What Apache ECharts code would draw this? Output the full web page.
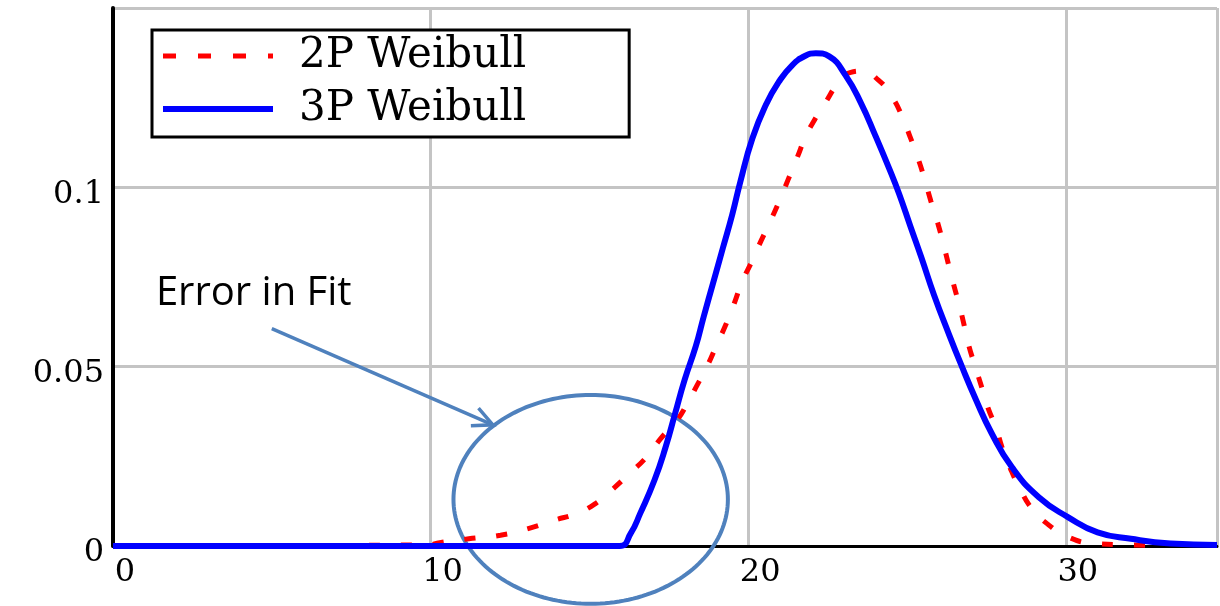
<!DOCTYPE html>
<html>
<head>
<meta charset="utf-8">
<script src="https://cdn.jsdelivr.net/npm/echarts@6/dist/echarts.min.js"></script>
<style>
  html, body { margin: 0; padding: 0; background: #fff; }
  #chart { width: 1220px; height: 606px; }
</style>
</head>
<body>
<div id="chart"></div>
<script>
// ---- data ----
const seriesNames = ['2P Weibull', '3P Weibull'];

const x2P = [0, 10.0, 10.2, 11.2, 12.2, 13.1, 13.9, 14.6, 15.2, 15.7, 16.25, 16.8, 17.25, 17.75, 18.05, 18.4, 18.7, 19.0, 19.3, 19.55, 19.8, 20.1, 20.4, 20.7, 21.0, 21.25, 21.55, 21.8, 22.1, 22.45, 22.8, 23.2, 23.6, 24.1, 24.5, 24.85, 25.1, 25.35, 25.55, 25.75, 25.95, 26.15, 26.45, 26.65, 26.8, 26.95, 27.15, 27.35, 27.55, 27.8, 28.0, 28.25, 28.55, 28.9, 29.4, 30.1, 30.9, 32.0, 33.1];
const y2P = [0, 0.0003, 0.0008, 0.0020, 0.0030, 0.0049, 0.0072, 0.0091, 0.0119, 0.0156, 0.0201, 0.0248, 0.0300, 0.0350, 0.0392, 0.0450, 0.0500, 0.0559, 0.0618, 0.0674, 0.0735, 0.0791, 0.0850, 0.0906, 0.0966, 0.1020, 0.1085, 0.1140, 0.1190, 0.1239, 0.1287, 0.1320, 0.1324, 0.1299, 0.1256, 0.1197, 0.1140, 0.1080, 0.1024, 0.0962, 0.0906, 0.0840, 0.0735, 0.0670, 0.0615, 0.0557, 0.0500, 0.0443, 0.0385, 0.0330, 0.0273, 0.0217, 0.0161, 0.0108, 0.0063, 0.0024, 0.0007, 0.0003, 0.0001];

const x3P = [0, 15.95, 16.3, 16.6, 17.05, 17.4, 17.7, 18.0, 18.35, 18.6, 18.9, 19.2, 19.5, 19.75, 20.13, 20.55, 20.97, 21.39, 21.8, 22.13, 22.55, 23.06, 23.55, 24.0, 24.45, 24.75, 25.1, 25.45, 25.85, 26.3, 26.72, 27.16, 27.66, 28.3, 29.15, 30.08, 31.0, 32.05, 33.3, 34.76];
const y3P = [0, 0, 0.0035, 0.0091, 0.0184, 0.0276, 0.0370, 0.0464, 0.0557, 0.0640, 0.0735, 0.0830, 0.0925, 0.1015, 0.1136, 0.1229, 0.1295, 0.1341, 0.1367, 0.1374, 0.1365, 0.1313, 0.1235, 0.1145, 0.1050, 0.0982, 0.0893, 0.0805, 0.0700, 0.0595, 0.0502, 0.0410, 0.0315, 0.0220, 0.0136, 0.0080, 0.0038, 0.0020, 0.0007, 0.0003];

const xTicks = [0, 10, 20, 30];
const yTickLabels = {0: '0', 0.05: '0.05', 0.1: '0.1'};

// annotation (in data units)
const noteText = 'Error in Fit';
const noteAnchor = [1.35, 0.0705];
const arrowFrom = [5.0, 0.0606];
const arrowTo = [11.96, 0.0338];
const ellipseCenter = [15.04, 0.013];
const ellipseRadii = [4.32, 0.0291];

function zip(xs, ys) { return xs.map((x, i) => [x, ys[i]]); }

const chart = echarts.init(document.getElementById('chart'), null, {renderer: 'canvas'});
const serif = 'DejaVu Serif';
const annotColor = '#4f81bd';
const red = '#ff0000', blue = '#0000ff';

chart.setOption({
  animation: false,
  backgroundColor: '#fff',
  grid: { left: 113, right: 0, top: 8, bottom: 60, containLabel: false },
  legend: {
    data: [
      { name: seriesNames[0], lineStyle: { color: red, width: 5, type: [13, 22] } },
      { name: seriesNames[1], lineStyle: { color: blue, width: 6, type: 'solid' } }
    ],
    orient: 'vertical',
    left: 152, top: 30,
    itemWidth: 110, itemHeight: 14, itemGap: 7,
    padding: [3, 103, 5, 8],
    borderColor: '#000', borderWidth: 3, backgroundColor: '#fff',
    selectedMode: false,
    itemStyle: { opacity: 0, borderWidth: 0 },
    textStyle: { fontFamily: serif, fontSize: 42, color: '#000', lineHeight: 46, padding: [0, 0, 0, 21] }
  },
  xAxis: [{
    type: 'value', min: 0, max: 34.76, interval: 10,
    axisLine: { show: true, onZero: false, lineStyle: { color: '#000', width: 2 } },
    axisTick: { show: false },
    splitLine: { show: true, lineStyle: { color: '#c4c4c4', width: 3 } },
    axisLabel: {
      fontFamily: serif, fontSize: 32, color: '#000', margin: 11,
      padding: [0, 0, 0, 24],
      formatter: v => xTicks.indexOf(v) >= 0 ? String(v) : ''
    }
  }, {
    type: 'value', position: 'top', min: 0, max: 34.76,
    axisLine: { show: true, lineStyle: { color: '#000', width: 3 } },
    axisTick: { show: false }, axisLabel: { show: false }, splitLine: { show: false }
  }],
  yAxis: {
    type: 'value', min: 0, max: 0.15, interval: 0.05,
    axisLine: { show: true, lineStyle: { color: '#000', width: 4 } },
    axisTick: { show: false },
    splitLine: { show: true, lineStyle: { color: '#c4c4c4', width: 3 } },
    axisLabel: {
      fontFamily: serif, fontSize: 32, color: '#000', margin: 9,
      verticalAlign: 'top', lineHeight: 14,
      formatter: v => {
        const k = Object.keys(yTickLabels).find(t => Math.abs(Number(t) - v) < 1e-9);
        return k !== undefined ? yTickLabels[k] : '';
      }
    }
  },
  series: [{
    name: seriesNames[0], type: 'line', symbol: 'none', smooth: 0.5,
    data: zip(x2P, y2P),
    lineStyle: { color: red, width: 5, type: [11, 21] },
    itemStyle: { color: red }, z: 3
  }, {
    name: seriesNames[1], type: 'line', symbol: 'none', smooth: 0.5,
    data: zip(x3P, y3P),
    lineStyle: { color: blue, width: 6 },
    itemStyle: { color: blue }, z: 4
  }]
});

function px(p) { return chart.convertToPixel({ gridIndex: 0 }, p); }

const c = px(ellipseCenter);
const ex = px([ellipseCenter[0] + ellipseRadii[0], ellipseCenter[1]]);
const ey = px([ellipseCenter[0], ellipseCenter[1] + ellipseRadii[1]]);
const rx = ex[0] - c[0], ry = c[1] - ey[1];
const ellipsePts = [];
for (let i = 0; i < 180; i++) {
  const a = i / 180 * Math.PI * 2;
  ellipsePts.push([c[0] + rx * Math.cos(a), c[1] + ry * Math.sin(a)]);
}
const a0 = px(arrowFrom), a1 = px(arrowTo);
const ang = Math.atan2(a1[1] - a0[1], a1[0] - a0[0]);
const headLen = 22, headAng = 0.45;
const h1 = [a1[0] - headLen * Math.cos(ang - headAng), a1[1] - headLen * Math.sin(ang - headAng)];
const h2 = [a1[0] - headLen * Math.cos(ang + headAng), a1[1] - headLen * Math.sin(ang + headAng)];
const tp = px(noteAnchor);

chart.setOption({
  graphic: [
    { type: 'polygon', z: 1, silent: true, shape: { points: ellipsePts },
      style: { fill: 'none', stroke: annotColor, lineWidth: 4 } },
    { type: 'line', z: 5, silent: true, shape: { x1: a0[0], y1: a0[1], x2: a1[0], y2: a1[1] },
      style: { stroke: annotColor, lineWidth: 3.5 } },
    { type: 'polyline', z: 5, silent: true, shape: { points: [h1, a1, h2] },
      style: { stroke: annotColor, lineWidth: 3.5, fill: 'none' } },
    { type: 'text', z: 5, silent: true, x: tp[0], y: tp[1],
      style: { text: noteText, font: '40px "Open Sans"', fill: '#000', verticalAlign: 'middle', align: 'left' } }
  ]
});
</script>
</body>
</html>
